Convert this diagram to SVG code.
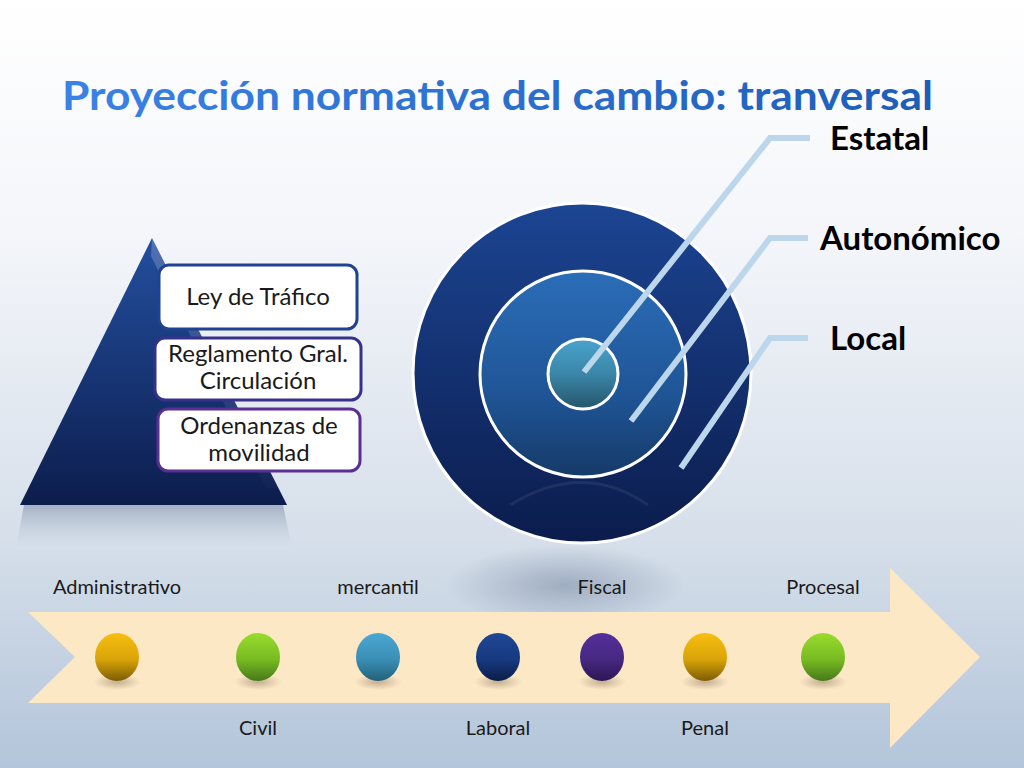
<svg xmlns="http://www.w3.org/2000/svg" width="1024" height="768" viewBox="0 0 1024 768">
<defs>
<linearGradient id="bg" x1="0" y1="0" x2="0" y2="1">
<stop offset="0" stop-color="#ffffff"/>
<stop offset="0.3" stop-color="#f4f6fa"/>
<stop offset="0.7" stop-color="#d6dfea"/>
<stop offset="1" stop-color="#b3c5da"/>
</linearGradient>
<linearGradient id="title" x1="0" y1="0" x2="1" y2="0">
<stop offset="0" stop-color="#3b82e6"/>
<stop offset="1" stop-color="#1d5db8"/>
</linearGradient>
<linearGradient id="pyr" x1="0" y1="0" x2="0" y2="1">
<stop offset="0" stop-color="#234f9f"/>
<stop offset="1" stop-color="#0c1d4c"/>
</linearGradient>
<linearGradient id="pyrShadow" x1="0" y1="0" x2="0" y2="1">
<stop offset="0" stop-color="#7f8fa8" stop-opacity="0.6"/>
<stop offset="1" stop-color="#b8c6d8" stop-opacity="0"/>
</linearGradient>
<linearGradient id="gloss" x1="0" y1="0" x2="0" y2="1">
<stop offset="0" stop-color="#ffffff" stop-opacity="0.6"/>
<stop offset="1" stop-color="#ffffff" stop-opacity="0.05"/>
</linearGradient>
<linearGradient id="outer" x1="0" y1="0" x2="0" y2="1">
<stop offset="0" stop-color="#1c4593"/>
<stop offset="1" stop-color="#0b1c4c"/>
</linearGradient>
<linearGradient id="middle" x1="0" y1="0" x2="0" y2="1">
<stop offset="0" stop-color="#2b6db8"/>
<stop offset="0.6" stop-color="#1f5596"/>
<stop offset="1" stop-color="#153a68"/>
</linearGradient>
<linearGradient id="inner" x1="0" y1="0" x2="0" y2="1">
<stop offset="0" stop-color="#4aa3cc"/>
<stop offset="0.5" stop-color="#3a86a8"/>
<stop offset="1" stop-color="#26556a"/>
</linearGradient>
<radialGradient id="reflect" cx="0.5" cy="0.5" r="0.5">
<stop offset="0" stop-color="#8090a8" stop-opacity="0.6"/>
<stop offset="1" stop-color="#8090a8" stop-opacity="0"/>
</radialGradient>
<linearGradient id="gold" x1="0" y1="0" x2="0" y2="1">
<stop offset="0" stop-color="#f7bf10"/>
<stop offset="0.55" stop-color="#d9a408"/>
<stop offset="1" stop-color="#7d5c04"/>
</linearGradient>
<linearGradient id="green" x1="0" y1="0" x2="0" y2="1">
<stop offset="0" stop-color="#98dc2e"/>
<stop offset="0.55" stop-color="#78bb22"/>
<stop offset="1" stop-color="#46791a"/>
</linearGradient>
<linearGradient id="lblue" x1="0" y1="0" x2="0" y2="1">
<stop offset="0" stop-color="#4ba7d3"/>
<stop offset="0.55" stop-color="#3a8fb5"/>
<stop offset="1" stop-color="#24607a"/>
</linearGradient>
<linearGradient id="navy" x1="0" y1="0" x2="0" y2="1">
<stop offset="0" stop-color="#1f4796"/>
<stop offset="0.55" stop-color="#173a80"/>
<stop offset="1" stop-color="#0b1d48"/>
</linearGradient>
<linearGradient id="purple" x1="0" y1="0" x2="0" y2="1">
<stop offset="0" stop-color="#55309a"/>
<stop offset="0.55" stop-color="#472882"/>
<stop offset="1" stop-color="#2c1654"/>
</linearGradient>
<radialGradient id="dotShadow" cx="0.5" cy="0.5" r="0.5">
<stop offset="0" stop-color="#7a6a50" stop-opacity="0.45"/>
<stop offset="1" stop-color="#7a6a50" stop-opacity="0"/>
</radialGradient>
</defs>
<style>
.t{font-family:Lato,"Open Sans","Liberation Sans",sans-serif;fill:#1a1a1a}
.box{fill:#ffffff;stroke-width:3}
.boxtxt{font-size:24px;text-anchor:middle}
.lbl{font-size:20px;text-anchor:middle}
.lvl{font-size:33px;font-weight:bold;fill:#000}
.lead{fill:none;stroke:#bcd6ec;stroke-width:6;stroke-linejoin:miter}
.ring{stroke:#ffffff;stroke-width:3}
</style>
<rect width="1024" height="768" fill="url(#bg)"/>
<text class="t" x="62" y="110" font-size="40" font-weight="bold" style="fill:url(#title)" textLength="871" lengthAdjust="spacingAndGlyphs">Proyección normativa del cambio: tranversal</text>

<g id="pyramid">
<polygon points="24,505 283,505 292,548 16,548" fill="url(#pyrShadow)"/>
<polygon points="152,238 287,505 20,505" fill="url(#pyr)"/>
<polygon points="152,238 278,488 266,488 151,256" fill="url(#gloss)" opacity="0.35"/>
</g>
<g id="box-ley">
<rect class="box" x="159" y="265" width="198" height="64" rx="10" stroke="#1f4292"/>
<text class="t boxtxt" x="258" y="305">Ley de Tráfico</text>
</g>
<g id="box-reglamento">
<rect class="box" x="155" y="338" width="206" height="62" rx="10" stroke="#36318c"/>
<text class="t boxtxt" x="258" y="362">Reglamento Gral.</text>
<text class="t boxtxt" x="258" y="389">Circulación</text>
</g>
<g id="box-ordenanzas">
<rect class="box" x="158" y="409" width="202" height="62" rx="10" stroke="#5a2f92"/>
<text class="t boxtxt" x="259" y="434">Ordenanzas de</text>
<text class="t boxtxt" x="259" y="461">movilidad</text>
</g>

<g id="circles">
<ellipse cx="565" cy="585" rx="120" ry="40" fill="url(#reflect)"/>
<ellipse id="circle-local" class="ring" cx="582" cy="373" rx="169" ry="170" fill="url(#outer)"/>
<path d="M510,505 Q583,460 648,505" fill="none" stroke="#ffffff" stroke-opacity="0.07" stroke-width="3"/>
<circle id="circle-autonomico" class="ring" cx="583" cy="374" r="103" fill="url(#middle)"/>
<circle id="circle-estatal" class="ring" cx="583" cy="374" r="35" fill="url(#inner)"/>
</g>

<g id="connectors">
<polyline class="lead" points="584,372 770,138 810,138"/>
<polyline class="lead" points="631,421 770,238 808,238"/>
<polyline class="lead" points="681,468 770,338 808,338"/>
</g>

<g id="label-estatal"><text class="t lvl" x="830" y="150">Estatal</text></g>
<g id="label-autonomico"><text class="t lvl" x="820" y="250">Autonómico</text></g>
<g id="label-local"><text class="t lvl" x="830" y="350">Local</text></g>

<g id="arrow">
<polygon points="28,612 890,612 890,568 980,657 890,748 890,703 28,703 75,657" fill="#fde8c6"/>
</g>

<g id="dots">
<g id="dot-1"><ellipse cx="117" cy="682" rx="24" ry="8" fill="url(#dotShadow)"/><ellipse cx="117" cy="657" rx="22" ry="24" fill="url(#gold)"/></g>
<g id="dot-2"><ellipse cx="258" cy="682" rx="24" ry="8" fill="url(#dotShadow)"/><ellipse cx="258" cy="657" rx="22" ry="24" fill="url(#green)"/></g>
<g id="dot-3"><ellipse cx="378" cy="682" rx="24" ry="8" fill="url(#dotShadow)"/><ellipse cx="378" cy="657" rx="22" ry="24" fill="url(#lblue)"/></g>
<g id="dot-4"><ellipse cx="498" cy="682" rx="24" ry="8" fill="url(#dotShadow)"/><ellipse cx="498" cy="657" rx="22" ry="24" fill="url(#navy)"/></g>
<g id="dot-5"><ellipse cx="602" cy="682" rx="24" ry="8" fill="url(#dotShadow)"/><ellipse cx="602" cy="657" rx="22" ry="24" fill="url(#purple)"/></g>
<g id="dot-6"><ellipse cx="705" cy="682" rx="24" ry="8" fill="url(#dotShadow)"/><ellipse cx="705" cy="657" rx="22" ry="24" fill="url(#gold)"/></g>
<g id="dot-7"><ellipse cx="823" cy="682" rx="24" ry="8" fill="url(#dotShadow)"/><ellipse cx="823" cy="657" rx="22" ry="24" fill="url(#green)"/></g>
</g>

<g id="labels">
<text class="t lbl" x="117" y="594">Administrativo</text>
<text class="t lbl" x="378" y="594">mercantil</text>
<text class="t lbl" x="602" y="594">Fiscal</text>
<text class="t lbl" x="823" y="594">Procesal</text>
<text class="t lbl" x="258" y="735">Civil</text>
<text class="t lbl" x="498" y="735">Laboral</text>
<text class="t lbl" x="705" y="735">Penal</text>
</g>
</svg>
